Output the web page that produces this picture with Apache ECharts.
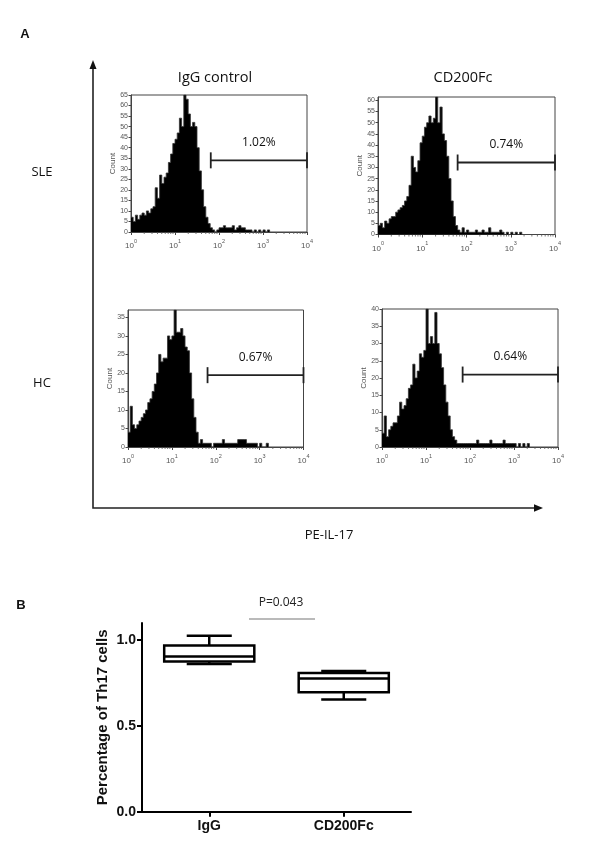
<!DOCTYPE html>
<html><head><meta charset="utf-8">
<script src="https://cdn.jsdelivr.net/npm/echarts@6/dist/echarts.min.js"></script>
<style>html,body{margin:0;padding:0;background:#fff}#c{width:600px;height:847px}</style>
</head><body><div id="c"></div>
<script>
// ---------- Panel A: flow cytometry histograms (counts per channel bin, bins of 0.05 decade starting at 10^0) ----------
const binStep = 0.05;
const histSLE_IgG = [7,5,8,6,8,9,8,10,9,11,12,21,16,27,23,26,28,33,37,42,44,47,54,50,65,63,56,50,52,50,40,29,20,12,7,4,2,1,0,1,2,2,3,2,2,2,3,1,2,3,2,2,1,1,1,0,1,0,1,0,1,0,1];
const histSLE_CD200 = [4,5,3,6,5,7,8,8,10,11,12,13,15,17,22,35,30,28,33,41,44,48,50,53,50,52,61.5,50,57,45,42,35,25,15,8,4,2,1,3,1,2,1,1,1,2,1,1,2,1,1,3,1,1,1,1,2,1,0,1,0,1,0,1,0,1];
const histHC_IgG = [4,11,6,5,6,7,8,9,10,12,13,15,17,20,25,23,24,24,30,29,30,37,31,31,32,30,27,26,20,13,8,4,1,2,1,1,1,1,0,1,1,1,1,2,1,1,1,1,1,1,2,2,2,2,1,1,1,1,1,0,1,0,0,1];
const histHC_CD200 = [4,9,3,5,6,7,7,9,13,11,12,14,17,18,24,20,22,27,26,28,40,30,32,30,39,30,27,23,18,13,9,5,3,2,1,1,1,1,1,1,1,1,1,2,1,1,1,1,1,2,1,1,1,1,1,2,1,1,1,1,1,0,1,0,1,0,1];
const histograms = [histSLE_IgG, histSLE_CD200, histHC_IgG, histHC_CD200];
const countMax = [65, 61.5, 37, 40];
const countTicks = [
  [0,5,10,15,20,25,30,35,40,45,50,55,60,65],
  [0,5,10,15,20,25,30,35,40,45,50,55,60],
  [0,5,10,15,20,25,30,35],
  [0,5,10,15,20,25,30,35,40]
];
const decadeTicks = [1, 10, 100, 1000, 10000];
const minorTicks = [2,3,4,5,6,7,8,9,20,30,40,50,60,70,80,90,200,300,400,500,600,700,800,900,2000,3000,4000,5000,6000,7000,8000,9000];
const gateStart = [65, 63, 65, 68];
const gateEnd = [10000, 10000, 10000, 10000];
const gateLevel = [34, 32.2, 19.4, 21];
const gateLabels = ['1.02%', '0.74%', '0.67%', '0.64%'];
const columnTitles = ['IgG control', 'CD200Fc'];
const rowTitles = ['SLE', 'HC'];
const xAxisTitle = 'PE-IL-17';

// ---------- Panel B: box plot ----------
const boxCategories = ['IgG', 'CD200Fc'];
const boxMin = [0.861, 0.654];
const boxQ1 = [0.875, 0.697];
const boxMedian = [0.905, 0.776];
const boxQ3 = [0.969, 0.808];
const boxMax = [1.025, 0.820];
const boxTicks = [0, 0.5, 1.0];
const pValueText = 'P=0.043';

const chart = echarts.init(document.getElementById('c'), null, {renderer: 'canvas'});

const histGrids = [
  {left: 131, top: 95, width: 176, height: 137},
  {left: 378, top: 97, width: 177, height: 137.5},
  {left: 128, top: 310, width: 175.5, height: 137},
  {left: 382, top: 309, width: 176, height: 138}
];
const grids = histGrids.map(g => Object.assign({show: true, borderColor: '#444', borderWidth: 1, backgroundColor: '#fff'}, g));
grids.push({left: 142, top: 623, width: 269, height: 188.7});

const axFont = 'Liberation Sans';
const xAxes = [], yAxes = [], series = [];
histograms.forEach((h, k) => {
  xAxes.push({
    type: 'log', logBase: 10, gridIndex: k, min: 1, max: 10000,
    axisLine: {show: true, lineStyle: {color: '#444', width: 1}},
    axisTick: {show: true, inside: false, length: 3, lineStyle: {color: '#444'}},
    splitLine: {show: false}, minorTick: {show: false},
    axisLabel: {
      margin: 6, fontFamily: axFont,
      formatter: v => '{b|10}{s|' + Math.round(Math.log10(v)) + '}',
      rich: {
        b: {fontSize: 8, color: '#555', fontFamily: axFont, verticalAlign: 'bottom', lineHeight: 12},
        s: {fontSize: 5.5, color: '#555', fontFamily: axFont, verticalAlign: 'top', lineHeight: 12}
      }
    }
  });
  yAxes.push({
    type: 'value', gridIndex: k, min: 0, max: countMax[k],
    name: 'Count', nameLocation: 'middle', nameRotate: 90, nameGap: 14,
    nameTextStyle: {fontSize: 8, color: '#555', fontFamily: axFont},
    axisLine: {show: true, lineStyle: {color: '#444', width: 1}},
    axisTick: {show: true, length: 2.5, lineStyle: {color: '#444'}, customValues: countTicks[k]},
    axisLabel: {fontSize: 7, color: '#555', fontFamily: axFont, margin: 3, customValues: countTicks[k]},
    splitLine: {show: false}
  });
  const pts = h.map((c, i) => [Math.pow(10, i * binStep), c]);
  pts.push([Math.pow(10, h.length * binStep), 0]);
  series.push({
    type: 'line', xAxisIndex: k, yAxisIndex: k, data: pts, step: 'end',
    showSymbol: false, symbol: 'none', clip: true, silent: true,
    lineStyle: {color: '#333', width: 0.8},
    areaStyle: {color: '#000', opacity: 1, origin: 'start'}
  });
  series.push({
    type: 'custom', xAxisIndex: k, yAxisIndex: k, clip: false, silent: true,
    data: [[gateStart[k], gateEnd[k], gateLevel[k]]],
    encode: {x: [0, 1], y: 2},
    renderItem: (params, api) => {
      const s = api.coord([api.value(0), api.value(2)]);
      const e = api.coord([api.value(1), api.value(2)]);
      const m = api.coord([Math.sqrt(api.value(0) * api.value(1)), api.value(2)]);
      const st = {stroke: '#222', lineWidth: 1.8};
      return {type: 'group', children: [
        {type: 'line', shape: {x1: s[0], y1: s[1], x2: e[0], y2: e[1]}, style: st},
        {type: 'line', shape: {x1: s[0], y1: s[1] - 8, x2: s[0], y2: s[1] + 8}, style: st},
        {type: 'line', shape: {x1: e[0], y1: e[1] - 8, x2: e[0], y2: e[1] + 8}, style: st},
        {type: 'text', x: m[0], y: m[1] - 18, style: {text: gateLabels[k], fill: '#111', font: '12px "Open Sans"', textAlign: 'center', textVerticalAlign: 'middle'}}
      ]};
    }
  });
  series.push({
    type: 'custom', xAxisIndex: k, yAxisIndex: k, clip: false, silent: true,
    data: minorTicks.map(v => [v, 0]),
    encode: {x: 0, y: 1},
    renderItem: (params, api) => {
      const p = api.coord([api.value(0), api.value(1)]);
      return {type: 'line', shape: {x1: p[0], y1: p[1], x2: p[0], y2: p[1] + 2}, style: {stroke: '#555', lineWidth: 0.8}};
    }
  });
});

// Panel B axes
const bFont = 'Liberation Sans';
xAxes.push({
  type: 'category', gridIndex: 4, data: boxCategories, boundaryGap: true,
  axisLine: {show: true, lineStyle: {color: '#000', width: 2}},
  axisTick: {show: true, alignWithLabel: true, length: 5, lineStyle: {color: '#000', width: 2}},
  axisLabel: {fontSize: 14, fontWeight: 'bold', color: '#111', fontFamily: bFont, margin: 7}
});
yAxes.push({
  type: 'value', gridIndex: 4, min: 0, max: 1.1,
  name: 'Percentage of Th17 cells', nameLocation: 'middle', nameRotate: 90, nameGap: 32,
  nameTextStyle: {fontSize: 15, fontWeight: 'bold', color: '#111', fontFamily: bFont},
  axisLine: {show: true, lineStyle: {color: '#000', width: 2}},
  axisTick: {show: true, length: 5, lineStyle: {color: '#000', width: 2}, customValues: boxTicks},
  axisLabel: {fontSize: 14, fontWeight: 'bold', color: '#111', fontFamily: bFont, margin: 6, customValues: boxTicks, formatter: v => v.toFixed(1)},
  splitLine: {show: false}
});
series.push({
  type: 'custom', xAxisIndex: 4, yAxisIndex: 4, silent: true, clip: false,
  data: boxCategories.map((c, i) => [i, boxMin[i], boxQ1[i], boxMedian[i], boxQ3[i], boxMax[i]]),
  encode: {x: 0, y: [1, 2, 3, 4, 5]},
  renderItem: (params, api) => {
    const i = api.value(0);
    const band = api.size([1, 0])[0];
    const hw = band * 0.335, cw = hw / 2;
    const pMin = api.coord([i, api.value(1)]), pQ1 = api.coord([i, api.value(2)]);
    const pMed = api.coord([i, api.value(3)]), pQ3 = api.coord([i, api.value(4)]);
    const pMax = api.coord([i, api.value(5)]);
    const cx = pMin[0];
    const st = {stroke: '#000', lineWidth: 2.5, fill: null};
    return {type: 'group', children: [
      {type: 'line', shape: {x1: cx, y1: pQ3[1], x2: cx, y2: pMax[1]}, style: st},
      {type: 'line', shape: {x1: cx - cw, y1: pMax[1], x2: cx + cw, y2: pMax[1]}, style: st},
      {type: 'line', shape: {x1: cx, y1: pQ1[1], x2: cx, y2: pMin[1]}, style: st},
      {type: 'line', shape: {x1: cx - cw, y1: pMin[1], x2: cx + cw, y2: pMin[1]}, style: st},
      {type: 'rect', shape: {x: cx - hw, y: pQ3[1], width: 2 * hw, height: pQ1[1] - pQ3[1]}, style: {stroke: '#000', lineWidth: 2.5, fill: '#fff'}},
      {type: 'line', shape: {x1: cx - hw, y1: pMed[1], x2: cx + hw, y2: pMed[1]}, style: st}
    ]};
  }
});

const lblFont = '"Open Sans"';
const graphic = [
  {type: 'polyline', shape: {points: [[93, 68], [93, 508], [536, 508]]}, style: {stroke: '#222', lineWidth: 1.6, fill: null}},
  {type: 'polygon', shape: {points: [[93, 60], [89.5, 69], [96.5, 69]]}, style: {fill: '#111'}},
  {type: 'polygon', shape: {points: [[543, 508], [534, 504.3], [534, 511.7]]}, style: {fill: '#111'}},
  {type: 'text', x: 25, y: 34, style: {text: 'A', font: 'bold 13px "Liberation Sans"', fill: '#111', textAlign: 'center', textVerticalAlign: 'middle'}},
  {type: 'text', x: 21, y: 605, style: {text: 'B', font: 'bold 13px "Liberation Sans"', fill: '#111', textAlign: 'center', textVerticalAlign: 'middle'}},
  {type: 'text', x: 215, y: 78, style: {text: columnTitles[0], font: '14.5px ' + lblFont, fill: '#111', textAlign: 'center', textVerticalAlign: 'middle'}},
  {type: 'text', x: 463, y: 78, style: {text: columnTitles[1], font: '14.5px ' + lblFont, fill: '#111', textAlign: 'center', textVerticalAlign: 'middle'}},
  {type: 'text', x: 42, y: 172, style: {text: rowTitles[0], font: '13px ' + lblFont, fill: '#111', textAlign: 'center', textVerticalAlign: 'middle'}},
  {type: 'text', x: 42, y: 383, style: {text: rowTitles[1], font: '13px ' + lblFont, fill: '#111', textAlign: 'center', textVerticalAlign: 'middle'}},
  {type: 'text', x: 329, y: 535, style: {text: xAxisTitle, font: '13px ' + lblFont, fill: '#111', textAlign: 'center', textVerticalAlign: 'middle'}},
  {type: 'text', x: 281, y: 603, style: {text: pValueText, font: '12px ' + lblFont, fill: '#222', textAlign: 'center', textVerticalAlign: 'middle'}},
  {type: 'line', shape: {x1: 249, y1: 619, x2: 315, y2: 619}, style: {stroke: '#777', lineWidth: 1.2}}
];

chart.setOption({
  animation: false,
  backgroundColor: '#fff',
  grid: grids, xAxis: xAxes, yAxis: yAxes, series: series, graphic: graphic
});
</script>
</body></html>
